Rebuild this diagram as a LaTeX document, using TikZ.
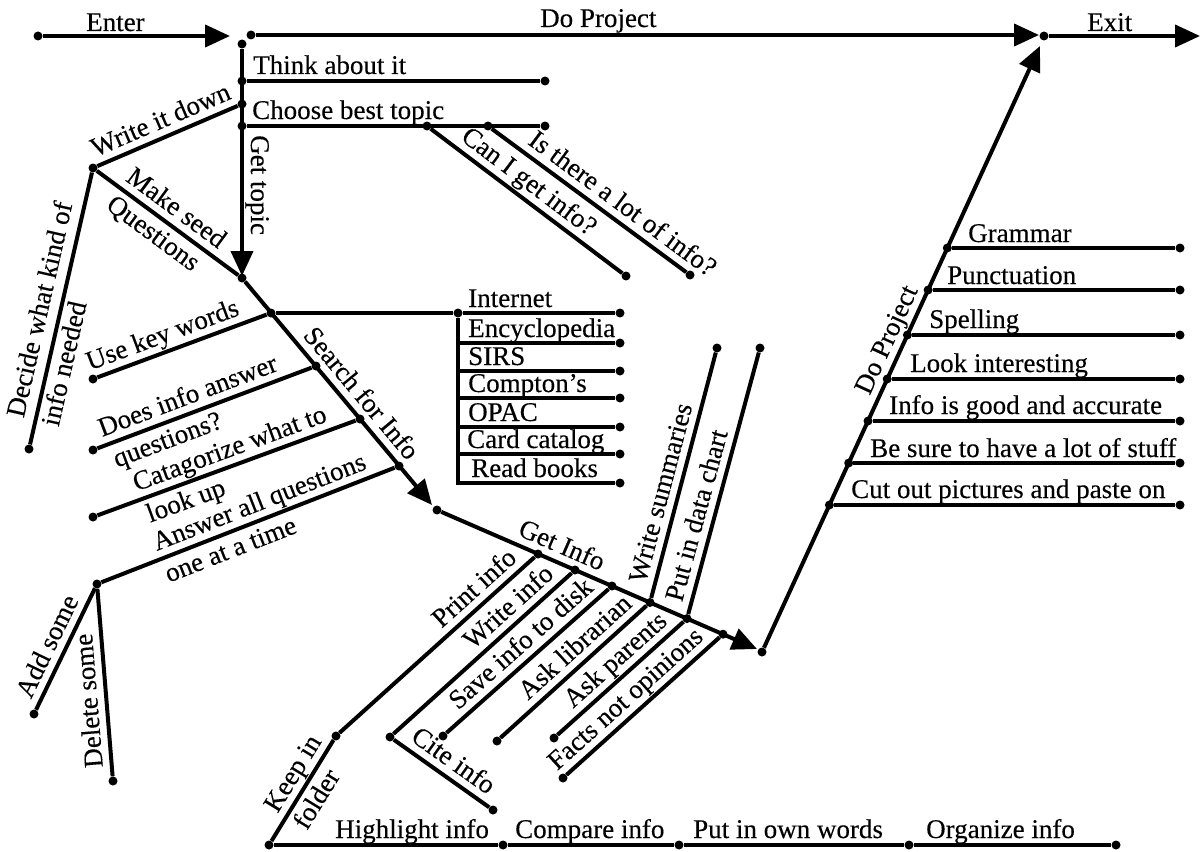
\documentclass[tikz,border=0pt]{standalone}
\usepackage{fontspec}
\setmainfont{Liberation Serif}[FakeBold=0.3]
\usetikzlibrary{arrows.meta}
\tikzset{
  ln/.style={line width=4pt},
  arr/.style={ln, -{Triangle[length=25pt,width=22pt]}},
  dot/.style={circle, fill, inner sep=0pt, minimum size=9pt},
  lab/.style={font=\fontsize{27}{30}\selectfont, inner sep=0pt, text height=19pt, text depth=6pt},
  hl/.style={lab, anchor=base west},
  ab/.style={lab, sloped, above=1pt},
  be/.style={lab, sloped, below=4pt},
}
\begin{document}
\begin{tikzpicture}[x=1pt,y=-1pt]
\useasboundingbox (0,0) rectangle (1204,851);
% ---------- top line
\node[dot] (E0) at (38,36) {};
\coordinate (E1) at (230,36);
\node[dot] (D0) at (251,35) {};
\coordinate (D1) at (1039,35);
\node[dot] (X0) at (1044,36) {};
\coordinate (X1) at (1200,36);
\draw[arr] (E0) -- (E1);
\draw[arr] (D0) -- (D1);
\draw[arr] (X0) -- (X1);
\node[hl] (tEnter) at (86,31) {Enter};
\node[hl] (tDo) at (540,27) {Do Project};
\node[hl] (tExit) at (1087,31) {Exit};
% ---------- get topic
\node[dot] (G0) at (242,44) {};
\coordinate (GT) at (242,276);
\draw[arr] (G0) -- node[lab, sloped, allow upside down, above=1pt, pos=0.6] {Get topic} (GT);
\node[dot] (T0) at (242,81) {};
\node[dot] (T1) at (545,81) {};
\draw[ln] (T0) -- (T1);
\node[hl] (tThink) at (253,74) {Think about it};
\node[dot] (WD) at (242,104) {};
\node[dot] (C0) at (242,126) {};
\node[dot] (C1) at (545,126) {};
\draw[ln] (C0) -- (C1);
\node[hl] (tChoose) at (252,119) {Choose best topic};
\node[dot] (C2) at (427,126) {};
\node[dot] (C3) at (626,276) {};
\node[dot] (C4) at (488,126) {};
\node[dot] (C5) at (690,275) {};
\draw[ln] (C2) -- node[ab, pos=0.46] {Can I get info?} (C3);
\draw[ln] (C4) -- node[ab, pos=0.62] {Is there a lot of info?} (C5);
% ---------- write it down / seed questions
\node[dot] (W0) at (93,168) {};
\node[dot] (MS) at (242,278) {};
\node[dot] (DK) at (29,449) {};
\draw[ln] (W0) -- node[ab, pos=0.5] {Write it down} (WD);
\draw[ln] (W0) -- node[ab, pos=0.49] {Make seed} node[be, pos=0.47] {Questions} (MS);
\draw[ln] (DK) -- node[lab, sloped, above=4pt, pos=0.48] {Decide what kind of} node[lab, sloped, below=3pt, pos=0.31] {info needed} (W0);
% ---------- search for info
\coordinate (ST) at (432,505);
\node[dot] (J1) at (271,313) {};
\node[dot] (J2) at (316,366) {};
\node[dot] (J3) at (360,419) {};
\node[dot] (J4) at (399,466) {};
\draw[arr] (MS) -- node[ab, pos=0.55] {Search for Info} (ST);
\node[dot] (UK) at (93,379) {};
\node[dot] (DA) at (93,450) {};
\node[dot] (CA) at (93,517) {};
\node[dot] (AA) at (97,584) {};
\node[dot] (AS) at (34,714) {};
\node[dot] (DS) at (113,781) {};
\draw[ln] (UK) -- node[ab, pos=0.42] {Use key words} (J1);
\draw[ln] (DA) -- node[ab, pos=0.45] {Does info answer} node[be, pos=0.3] {questions?} (J2);
\draw[ln] (CA) -- node[ab, pos=0.535] {Catagorize what to} node[be, pos=0.32] {look up} (J3);
\draw[ln] (AA) -- node[ab, pos=0.56] {Answer all questions} node[be, pos=0.42] {one at a time} (J4);
\draw[ln] (AS) -- node[ab, pos=0.46] {Add some} (AA);
\draw[ln] (DS) -- node[lab, sloped, allow upside down, above=1pt, pos=0.41] {Delete some} (AA);
% ---------- sources bracket
\node[dot] (IB0) at (458,313) {};
\coordinate (IB2) at (458,343);
\coordinate (IB3) at (458,371);
\coordinate (IB4) at (458,398);
\coordinate (IB5) at (458,427);
\coordinate (IB6) at (458,454);
\coordinate (IB7) at (458,483);
\node[dot] (I1) at (620,313) {};
\node[dot] (I2) at (620,343) {};
\node[dot] (I3) at (620,371) {};
\node[dot] (I4) at (620,398) {};
\node[dot] (I5) at (620,427) {};
\node[dot] (I6) at (620,454) {};
\node[dot] (I7) at (620,483) {};
\draw[ln] (J1) -- (IB0) -- (I1);
\draw[ln] (IB0) -- (IB7) -- (I7);
\draw[ln] (IB2) -- (I2);
\draw[ln] (IB3) -- (I3);
\draw[ln] (IB4) -- (I4);
\draw[ln] (IB5) -- (I5);
\draw[ln] (IB6) -- (I6);
\node[hl] (tI1) at (468,307) {Internet};
\node[hl] (tI2) at (468,337) {Encyclopedia};
\node[hl] (tI3) at (468,365) {SIRS};
\node[hl] (tI4) at (468,392) {Compton’s};
\node[hl] (tI5) at (468,421) {OPAC};
\node[hl] (tI6) at (467,448) {Card catalog};
\node[hl] (tI7) at (471,477) {Read books};
% ---------- get info
\node[dot] (GI0) at (437,510) {};
\coordinate (GIT) at (757,649);
\draw[arr] (GI0) -- node[ab, pos=0.36] {Get Info} (GIT);
\node[dot] (P1) at (538,554) {};
\node[dot] (P2) at (575,570) {};
\node[dot] (P3) at (612,586) {};
\node[dot] (P4) at (650,602.5) {};
\node[dot] (P5) at (687,618.6) {};
\node[dot] (P6) at (723,634.2) {};
\node[dot] (KF) at (336,736) {};
\node[dot] (BL0) at (269,845) {};
\draw[ln] (KF) -- node[ab, pos=0.75] {Print info} (P1);
\draw[ln] (BL0) -- node[ab, pos=0.58] {Keep in} node[be, pos=0.5] {folder} (KF);
\node[dot] (CI0) at (390,737) {};
\node[dot] (CI1) at (493,810) {};
\draw[ln] (CI0) -- node[ab, pos=0.71] {Write info} (P2);
\draw[ln] (CI0) -- node[ab, pos=0.52] {Cite info} (CI1);
\node[dot] (SD) at (443,736) {};
\draw[ln] (SD) -- node[ab, pos=0.53] {Save info to disk} (P3);
\node[dot] (AL) at (497,741) {};
\draw[ln] (AL) -- node[ab, pos=0.59] {Ask librarian} (P4);
\node[dot] (AP) at (554,738) {};
\draw[ln] (AP) -- node[ab, pos=0.55] {Ask parents} (P5);
\node[dot] (FN) at (563,778) {};
\draw[ln] (FN) -- node[ab, pos=0.46] {Facts not opinions} (P6);
\node[dot] (WS) at (717,348) {};
\draw[ln] (P4) -- node[ab, pos=0.41] {Write summaries} (WS);
\node[dot] (PD) at (760,348) {};
\draw[ln] (P5) -- node[ab, pos=0.36] {Put in data chart} (PD);
% ---------- bottom line
\node[dot] (BL1) at (503,845) {};
\node[dot] (BL2) at (679,845) {};
\node[dot] (BL3) at (909,845) {};
\node[dot] (BL4) at (1116,845) {};
\draw[ln] (BL0) -- (BL1) -- (BL2) -- (BL3) -- (BL4);
\node[hl] (tB1) at (335,838) {Highlight info};
\node[hl] (tB2) at (515,838) {Compare info};
\node[hl] (tB3) at (693,838) {Put in own words};
\node[hl] (tB4) at (926,838) {Organize info};
% ---------- do project
\node[dot] (DP0) at (762,652) {};
\coordinate (DPT) at (1040,46);
\draw[arr] (DP0) -- node[ab, pos=0.5] {Do Project} (DPT);
\node[dot] (R1) at (947.3,248) {};
\node[dot] (R2) at (928.1,290) {};
\node[dot] (R3) at (907.4,335) {};
\node[dot] (R4) at (887.2,379) {};
\node[dot] (R5) at (868,421) {};
\node[dot] (R6) at (848.7,463) {};
\node[dot] (R7) at (829.4,505) {};
\node[dot] (Q1) at (1180,248) {};
\node[dot] (Q2) at (1180,290) {};
\node[dot] (Q3) at (1180,335) {};
\node[dot] (Q4) at (1180,379) {};
\node[dot] (Q5) at (1180,421) {};
\node[dot] (Q6) at (1180,463) {};
\node[dot] (Q7) at (1180,505) {};
\draw[ln] (R1) -- (Q1);
\draw[ln] (R2) -- (Q2);
\draw[ln] (R3) -- (Q3);
\draw[ln] (R4) -- (Q4);
\draw[ln] (R5) -- (Q5);
\draw[ln] (R6) -- (Q6);
\draw[ln] (R7) -- (Q7);
\node[hl] (tR1) at (968,242) {Grammar};
\node[hl] (tR2) at (947,284) {Punctuation};
\node[hl] (tR3) at (929,328) {Spelling};
\node[hl] (tR4) at (910,372) {Look interesting};
\node[hl] (tR5) at (889,414) {Info is good and accurate};
\node[hl] (tR6) at (870,457) {Be sure to have a lot of stuff};
\node[hl] (tR7) at (851,498) {Cut out pictures and paste on};
\end{tikzpicture}
\end{document}
